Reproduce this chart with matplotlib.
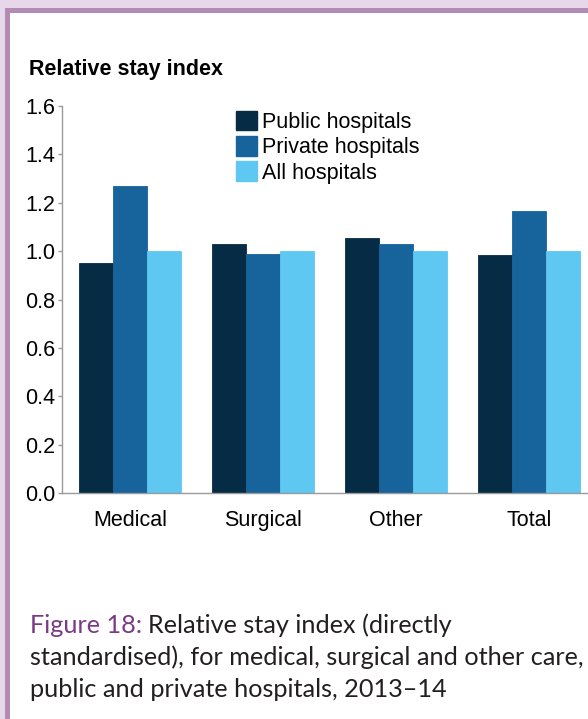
import numpy as np
import matplotlib
matplotlib.use("Agg")
import matplotlib.pyplot as plt
from matplotlib.patches import Rectangle, Patch

# Dados
categorias = ["Medical", "Surgical", "Other", "Total"]
series = ["Public hospitals", "Private hospitals", "All hospitals"]
publicos = [0.95, 1.03, 1.055, 0.985]
privados = [1.27, 0.99, 1.03, 1.165]
todos = [1.00, 1.00, 1.00, 1.00]
yticks = [0.0, 0.2, 0.4, 0.6, 0.8, 1.0, 1.2, 1.4, 1.6]

cores = ["#052b45", "#17639b", "#5ec8f2"]
roxo = "#7b3a86"
texto_escuro = "#231f20"
fs = 15.5  # tamanho da fonte do gráfico

W, H = 588, 719
fig = plt.figure(figsize=(W / 100, H / 100), dpi=100)
fig.patch.set_facecolor("white")

# moldura lilás (fundo + linha roxa)
fig.patches.append(Rectangle((0, 0), 1, 1, transform=fig.transFigure,
                             facecolor="#e6d8ea", edgecolor="none", zorder=-5))
fig.patches.append(Rectangle((5 / W, 0), 1, 1 - 8 / H, transform=fig.transFigure,
                             facecolor="#b48bb5", edgecolor="none", zorder=-4))
fig.patches.append(Rectangle((10 / W, 0), 1, 1 - 13 / H, transform=fig.transFigure,
                             facecolor="white", edgecolor="none", zorder=-3))

# eixo
x0, x1 = 62.5, 597
yb, yt = 493, 106
ax = fig.add_axes([x0 / W, 1 - yb / H, (x1 - x0) / W, (yb - yt) / H])
ax.set_facecolor("none")

x = np.arange(len(categorias))
larg = 0.255
for i, (vals, cor) in enumerate(zip([publicos, privados, todos], cores)):
    ax.bar(x + (i - 1) * larg, vals, width=larg, color=cor,
           edgecolor=cor, linewidth=0.6, label=series[i])

ax.set_xlim(-0.51, 3.51)
ax.set_ylim(0, 1.6)
ax.set_yticks(yticks)
ax.set_yticklabels([f"{v:.1f}" for v in yticks])
ax.set_xticks(x)
ax.set_xticklabels(categorias)

for s in ["top", "right"]:
    ax.spines[s].set_visible(False)
for s in ["left", "bottom"]:
    ax.spines[s].set_color("#9a9a9a")
    ax.spines[s].set_linewidth(1.0)
ax.tick_params(axis="y", length=3, width=1, color="#9a9a9a", pad=2,
               labelsize=fs, labelcolor="black")
ax.tick_params(axis="x", length=0, pad=12, labelsize=fs, labelcolor="black")
for lbl in ax.get_xticklabels() + ax.get_yticklabels():
    lbl.set_family("Liberation Sans")

handles = [Patch(facecolor=c, edgecolor=c) for c in cores]
leg = ax.legend(handles, series, loc="upper left",
                bbox_to_anchor=(236 / W, 1 - 110.5 / H),
                bbox_transform=fig.transFigure,
                frameon=False, borderpad=0, borderaxespad=0,
                handlelength=0.98, handleheight=1.03, labelspacing=0.15,
                handletextpad=0.25,
                prop={"family": "Liberation Sans", "size": fs})

# título do eixo
fig.text(29 / W, 1 - 75 / H, "Relative stay index", ha="left", va="baseline",
         fontsize=fs, fontweight="bold", family="Liberation Sans", color="black")

# legenda da figura
cap_fs = 18.2
cap_x = 30.5
bases = [633, 665, 697]
rend = fig.canvas.get_renderer()
t0 = fig.text(cap_x / W, 1 - bases[0] / H, "Figure 18:", ha="left", va="baseline",
              fontsize=cap_fs, family="Lato", color=roxo)
bb = t0.get_window_extent(renderer=rend)
fig.text((bb.x1 + 5) / W, 1 - bases[0] / H, "Relative stay index (directly",
         ha="left", va="baseline", fontsize=cap_fs, family="Lato", color=texto_escuro)
fig.text(cap_x / W, 1 - bases[1] / H,
         "standardised), for medical, surgical and other care,",
         ha="left", va="baseline", fontsize=cap_fs, family="Lato", color=texto_escuro)
fig.text(cap_x / W, 1 - bases[2] / H, "public and private hospitals, 2013\u201314",
         ha="left", va="baseline", fontsize=cap_fs, family="Lato", color=texto_escuro)

fig.savefig("out.png", dpi=100)
